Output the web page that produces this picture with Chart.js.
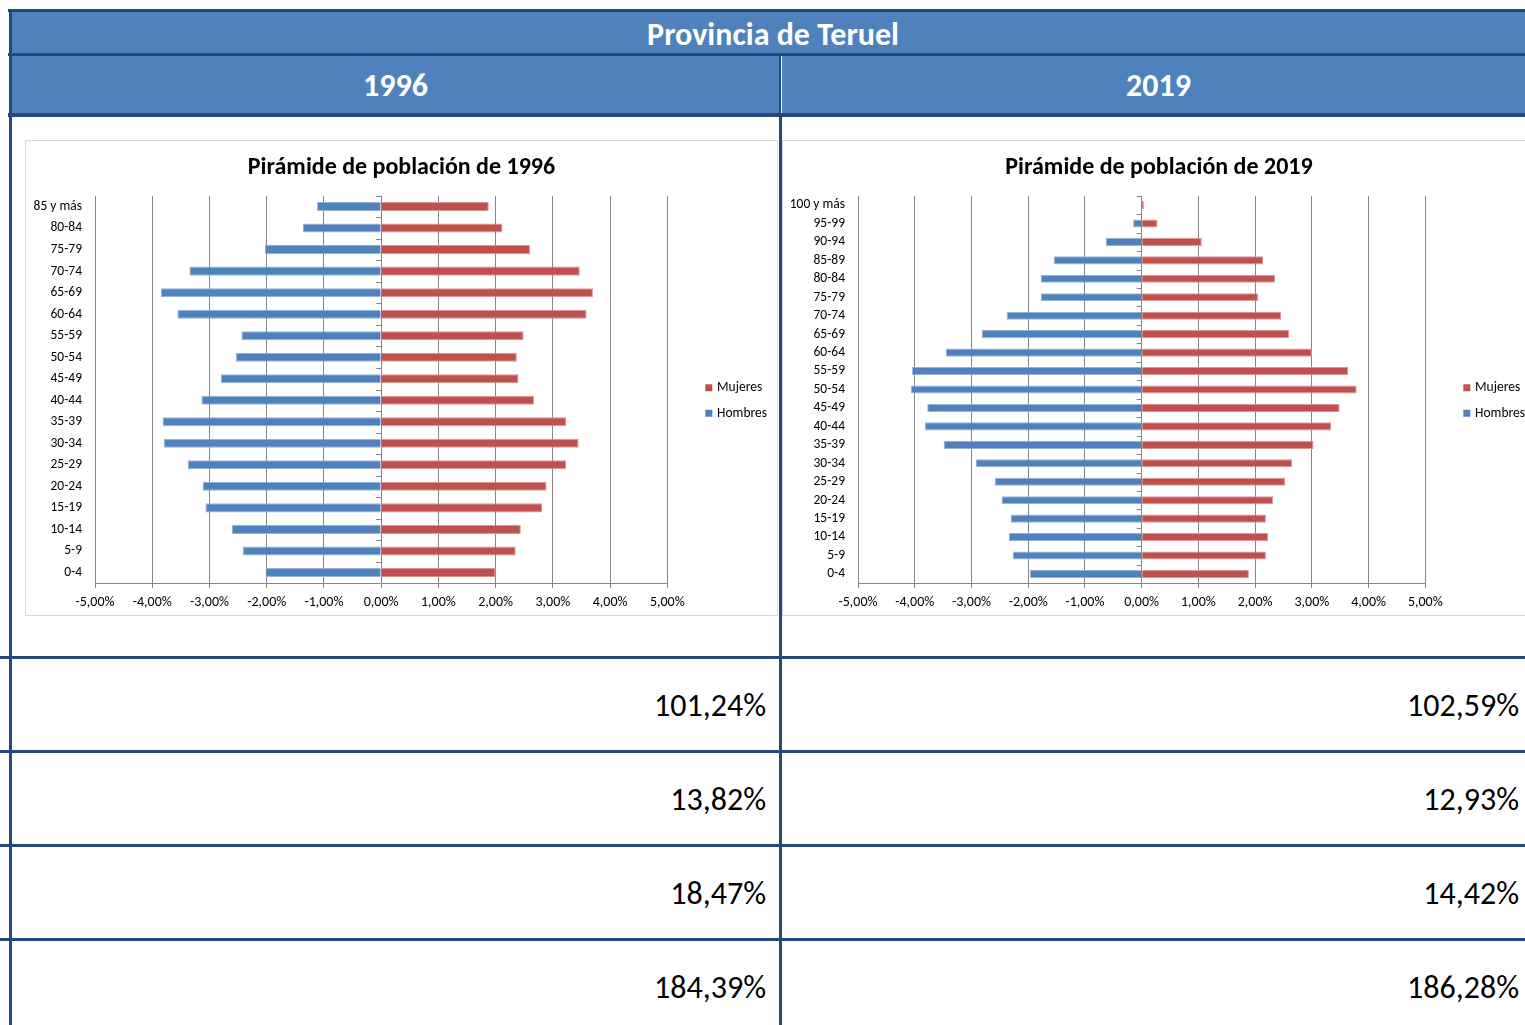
<!DOCTYPE html>
<html>
<head>
<meta charset="utf-8">
<script src="https://cdn.jsdelivr.net/npm/chart.js@4.4.1/dist/chart.umd.min.js"></script>
<style>
  body { margin: 0; width: 1525px; height: 1025px; overflow: hidden; background: #fff; font-family: Carlito, Lato, "Open Sans", sans-serif; }
  .line { position: absolute; background: #234a7d; }
  .head { position: absolute; background: #4f81bd; color: #fff; font-weight: bold; text-align: center; font-size: 32px; }
  .box { position: absolute; border: 1px solid #d9d9d9; background: #fff; }
  .val { position: absolute; font-size: 32px; color: #000; text-align: right; }
</style>
</head>
<body>

<!-- header rows -->
<div class="head" style="left:11px; top:12px; width:1524px; height:41px; line-height:45px;">Provincia de Teruel</div>
<div class="head" style="left:11px; top:56px; width:769px; height:57px; line-height:60px;">1996</div>
<div class="head" style="left:782px; top:56px; width:753px; height:57px; line-height:60px;">2019</div>

<!-- chart boxes -->
<div class="box" style="left:25px; top:140px; width:751px; height:474px;"><canvas id="chart1996"></canvas></div>
<div class="box" style="left:782px; top:140px; width:752px; height:474px;"><canvas id="chart2019"></canvas></div>

<!-- value cells -->
<div id="cells"></div>

<!-- grid lines of the sheet -->
<div class="line" style="left:8px; top:9px; width:1525px; height:3px;"></div>
<div class="line" style="left:8px; top:53px; width:1525px; height:3px;"></div>
<div class="line" style="left:8px; top:113px; width:1525px; height:4px;"></div>
<div class="line" style="left:9px; top:9px; width:3px; height:1020px;"></div>
<div class="line" style="left:779px; top:56px; width:2px; height:61px;"></div>
<div class="line" style="left:779px; top:117px; width:3px; height:910px;"></div>

<script>
// age groups (youngest first)
const ages1996 = ['0-4', '5-9', '10-14', '15-19', '20-24', '25-29', '30-34', '35-39', '40-44',
  '45-49', '50-54', '55-59', '60-64', '65-69', '70-74', '75-79', '80-84', '85 y más'];
const hombres1996 = [-2.02, -2.42, -2.61, -3.07, -3.12, -3.38, -3.80, -3.82, -3.14,
  -2.80, -2.54, -2.44, -3.56, -3.85, -3.35, -2.03, -1.37, -1.12];
const mujeres1996 = [2.00, 2.35, 2.44, 2.81, 2.89, 3.23, 3.45, 3.23, 2.67,
  2.40, 2.37, 2.49, 3.59, 3.70, 3.47, 2.60, 2.12, 1.88];

const ages2019 = ['0-4', '5-9', '10-14', '15-19', '20-24', '25-29', '30-34', '35-39', '40-44',
  '45-49', '50-54', '55-59', '60-64', '65-69', '70-74', '75-79', '80-84', '85-89', '90-94',
  '95-99', '100 y más'];
const hombres2019 = [-1.97, -2.27, -2.34, -2.31, -2.47, -2.59, -2.92, -3.49, -3.82,
  -3.78, -4.07, -4.05, -3.45, -2.82, -2.38, -1.78, -1.78, -1.55, -0.63, -0.15, -0.01];
const mujeres2019 = [1.89, 2.19, 2.23, 2.19, 2.32, 2.53, 2.65, 3.03, 3.34,
  3.49, 3.79, 3.64, 3.00, 2.60, 2.46, 2.05, 2.35, 2.14, 1.06, 0.28, 0.04];

const xTicks = [-5, -4, -3, -2, -1, 0, 1, 2, 3, 4, 5];

// indicator rows under the charts
const cells1996 = ['101,24%', '13,82%', '18,47%', '184,39%'];
const cells2019 = ['102,59%', '12,93%', '14,42%', '186,28%'];

// build the table rows
const cells = document.getElementById('cells');
const rowTops = [659, 753, 847, 941];
rowTops.forEach((top, i) => {
  const line = document.createElement('div');
  line.className = 'line';
  line.style.cssText = 'left:0px; top:' + (top - 3) + 'px; width:1525px; height:3px;';
  document.body.appendChild(line);

  const a = document.createElement('div');
  a.className = 'val';
  a.style.cssText = 'left:12px; width:754px; top:' + top + 'px; height:91px; line-height:93px;';
  a.textContent = cells1996[i];
  cells.appendChild(a);

  const b = document.createElement('div');
  b.className = 'val';
  b.style.cssText = 'left:782px; width:737px; top:' + top + 'px; height:91px; line-height:93px;';
  b.textContent = cells2019[i];
  cells.appendChild(b);
});

Chart.defaults.font.family = 'Carlito, Lato, "Open Sans", sans-serif';
Chart.defaults.color = '#000';

const gridGray = '#868686';

// small ticks on the zero axis between age groups
const zeroAxisTicks = {
  id: 'zeroAxisTicks',
  afterDatasetsDraw(chart) {
    const x = chart.scales.x, y = chart.scales.y;
    const x0 = x.getPixelForValue(0);
    const n = chart.data.labels.length;
    const band = (y.bottom - y.top) / n;
    const ctx = chart.ctx;
    ctx.save();
    ctx.strokeStyle = gridGray;
    ctx.lineWidth = 1;
    ctx.beginPath();
    for (let i = 0; i <= n; i++) {
      const py = Math.round(y.top + i * band) + 0.5;
      ctx.moveTo(x0 - 5, py);
      ctx.lineTo(x0, py);
    }
    ctx.stroke();
    ctx.restore();
  }
};

// move the legend away from the plot and centre the title on the whole box
const legendPlace = {
  id: 'legendPlace',
  afterLayout(chart, args, opts) {
    const lg = chart.legend;
    const w = lg.width;
    lg.left = chart.chartArea.right + opts.gap;
    lg.right = lg.left + w;
    lg.top += opts.dy;
    lg.bottom += opts.dy;

    const tb = chart.titleBlock;
    if (tb) {
      tb.left = 0;
      tb.right = chart.width;
      tb.width = chart.width;
    }
  }
};

// legend squares: a thin box with a thick stroke keeps the text close to the square
function squareLabels(chart) {
  return Chart.defaults.plugins.legend.labels.generateLabels(chart).map(item => {
    item.lineWidth = 4;
    item.strokeStyle = item.fillStyle;
    return item;
  });
}

function makePyramid(id, labels, hombres, mujeres, year, yWidth, barPct) {
  return new Chart(document.getElementById(id), {
    type: 'bar',
    data: {
      labels: labels,
      datasets: [
        { label: 'Mujeres', data: mujeres, backgroundColor: '#c0504d', borderColor: '#d99694', borderWidth: 1,
          barPercentage: barPct, categoryPercentage: 1 },
        { label: 'Hombres', data: hombres, backgroundColor: '#4f81bd', borderColor: '#95b3d7', borderWidth: 1,
          barPercentage: barPct, categoryPercentage: 1 }
      ]
    },
    options: {
      indexAxis: 'y',
      responsive: true,
      maintainAspectRatio: false,
      animation: false,
      layout: { padding: { left: 0, right: 28, top: 0, bottom: -2 } },
      plugins: {
        title: {
          display: true,
          text: 'Pirámide de población de ' + year,
          font: { size: 24, weight: 'bold' },
          color: '#000',
          padding: { top: 13, bottom: 13 }
        },
        legend: {
          position: 'right',
          fullSize: false,
          labels: {
            boxWidth: 3, boxHeight: 3, padding: 12, font: { size: 13.5 }, color: '#000',
            generateLabels: squareLabels
          }
        },
        legendPlace: { gap: 28, dy: 11 },
        tooltip: { enabled: false }
      },
      scales: {
        x: {
          stacked: true,
          min: -5,
          max: 5,
          afterBuildTicks(scale) { scale.ticks = xTicks.map(v => ({ value: v })); },
          ticks: {
            font: { size: 14 },
            color: '#000',
            padding: 6,
            callback: v => v.toFixed(2).replace('.', ',') + '%'
          },
          grid: { color: gridGray, tickLength: 5, tickColor: gridGray },
          border: { display: true, color: gridGray }
        },
        y: {
          stacked: true,
          reverse: true,
          afterFit(scale) { scale.width = yWidth; },
          ticks: { font: { size: 13.5 }, color: '#000', padding: 13, autoSkip: false },
          grid: { display: false, drawTicks: false },
          border: { display: false }
        }
      }
    },
    plugins: [zeroAxisTicks, legendPlace]
  });
}

makePyramid('chart1996', ages1996, hombres1996, mujeres1996, '1996', 69, 0.42);
makePyramid('chart2019', ages2019, hombres2019, mujeres2019, '2019', 75, 0.44);
</script>
</body>
</html>
